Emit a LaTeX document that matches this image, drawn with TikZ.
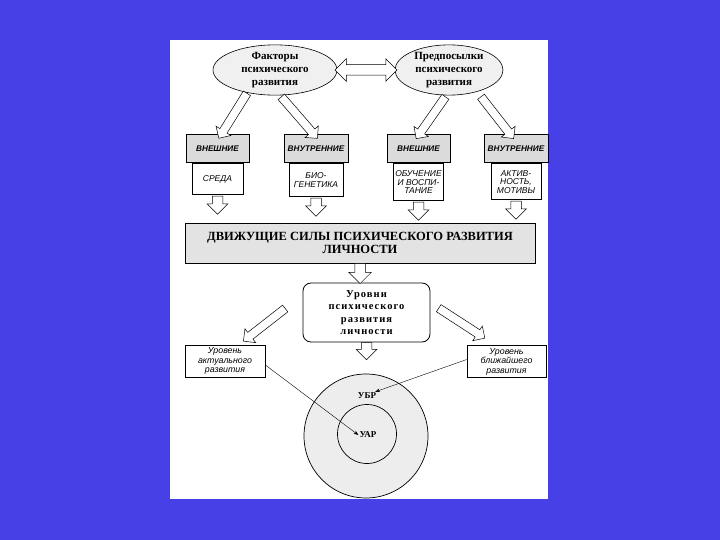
\documentclass[tikz,border=0pt]{standalone}
\usepackage{fontspec}
\setmainfont{Liberation Serif}
\setsansfont{Liberation Sans}
\usetikzlibrary{shapes.geometric,shapes.arrows,positioning,calc,arrows.meta}
\definecolor{slideblue}{RGB}{70,64,230}

\begin{document}
\begin{tikzpicture}[
  x=1pt, y=-1pt,
  >=Stealth,
  oval/.style={draw=black, ellipse, fill=gray!12, line width=0.6pt, align=center,
    inner sep=0pt, font=\fontsize{11}{13}\selectfont\bfseries},
  head/.style={draw=black, fill=gray!28, line width=1pt, minimum height=28pt,
    inner sep=1pt, font=\sffamily\fontsize{8.2}{9}\selectfont\bfseries\itshape},
  part/.style={draw=black, fill=white, line width=0.5pt, align=center, inner sep=1pt,
    font=\sffamily\fontsize{8.5}{8.5}\selectfont\itshape},
  forces/.style={draw=black, fill=gray!22, line width=0.7pt, align=center,
    minimum width=350pt, minimum height=40pt,
    font=\fontsize{12.5}{13.5}\selectfont\bfseries},
  levels/.style={draw=black, rounded corners=8pt, fill=white, line width=0.8pt,
    align=center, minimum width=127pt, minimum height=59pt, inner sep=0pt,
    font=\fontsize{10.5}{12.5}\selectfont\bfseries\addfontfeature{LetterSpace=10}},
  zone/.style={draw=black, fill=white, line width=0.7pt, align=center, inner sep=1pt,
    minimum height=32pt, font=\sffamily\fontsize{8.8}{9.5}\selectfont\itshape},
  disc/.style={draw=black, circle, fill=gray!14, line width=0.7pt, inner sep=0pt},
  fat/.style={single arrow, draw=black, fill=white, line width=0.5pt,
    inner xsep=0pt, inner ysep=4pt, single arrow head extend=4.5pt},
  stub/.style={fat, rotate=-90, anchor=tail, minimum height=18pt,
    inner ysep=5pt, single arrow head extend=5pt},
  lab/.style={font=\fontsize{9}{10}\selectfont\bfseries, inner sep=1pt},
  thinarrow/.style={->, line width=0.4pt}
]
% Slide and page
\fill[slideblue] (0,0) rectangle (720,540);
\fill[white] (170,40) rectangle (548,499);
\useasboundingbox (0,0) rectangle (720,540);

% Top: factors and prerequisites
\node[oval, minimum width=124pt, minimum height=46pt] (fact) at (275,70)
  {Факторы\\психического\\развития};
\node[oval, minimum width=108pt, minimum height=46pt] (prem) at (449,70)
  {Предпосылки\\психического\\развития};
\node[double arrow, draw=black, fill=white, line width=0.5pt, inner xsep=0pt,
  inner ysep=5pt, minimum height=62pt, double arrow head extend=6pt]
  (link) at ($(fact.east)!0.5!(prem.west)$) {};

% Row of external / internal boxes
\node[head, minimum width=63pt] (h1) at (217.5,149) {ВНЕШНИЕ};
\node[head, minimum width=64pt] (h2) at (316,149) {ВНУТРЕННИЕ};
\node[head, minimum width=63pt] (h3) at (418.5,149) {ВНЕШНИЕ};
\node[head, minimum width=64pt] (h4) at (516,149) {ВНУТРЕННИЕ};

\node[part, below=0pt of h1, minimum width=51pt, minimum height=31pt] (b1) {СРЕДА};
\node[part, below=0pt of h2, minimum width=54pt, minimum height=33pt] (b2) {БИО-\\ГЕНЕТИКА};
\node[part, below=0pt of h3, minimum width=50pt, minimum height=37pt] (b3) {ОБУЧЕНИЕ\\И ВОСПИ-\\ТАНИЕ};
\node[part, below=0pt of h4, minimum width=50pt, minimum height=36pt] (b4) {АКТИВ-\\НОСТЬ,\\МОТИВЫ};

% Hollow arrows from the ovals
\node[fat, minimum height=53pt, rotate=-122] (a1) at (234,114) {};
\node[fat, minimum height=55pt, rotate=-49] (a2) at (298,116) {};
\node[fat, minimum height=51pt, rotate=-125] (a3) at (432,116) {};
\node[fat, minimum height=53pt, rotate=-52] (a4) at (496,116) {};

% Driving forces
\node[forces] (force) at (360,243)
  {ДВИЖУЩИЕ СИЛЫ ПСИХИЧЕСКОГО РАЗВИТИЯ\\ЛИЧНОСТИ};
\foreach \b in {b1,b2,b3,b4}
  \node[stub] at ($(\b.south)+(0,1)$) {};

% Levels of development
\node[levels] (lvl) at (366.5,312.5) {Уровни\\психического\\развития\\личности};
\node[stub, minimum height=20pt, inner ysep=5pt, single arrow head extend=6pt] (a5) at (force.south) {};
\node[stub, minimum height=17pt] (a6) at (lvl.south) {};
\node[fat, minimum height=53pt, rotate=218] (a7) at (266,323.5) {};
\node[fat, minimum height=55pt, rotate=-33] (a8) at (460,322) {};

\node[zone, minimum width=80pt] (actual) at (225,361)
  {Уровень\\актуального\\развития};
\node[zone, minimum width=79pt] (nearest) at (506.5,361.5)
  {Уровень\\ближайшего\\развития};

% Zones
\node[disc, minimum size=124pt] (outer) at (366,436) {};
\node[disc, minimum size=59pt] (inner) at (367,434) {};
\node[lab] (ubr) at (367,396) {УБР};
\node[lab] (uar) at (368,435) {УАР};

\draw[thinarrow] ($(actual.east)+(0,4)$) -- (uar.west);
\draw[thinarrow] ($(nearest.west)+(0,-2)$) -- ($(ubr.north east)+(-2,0)$);

\end{tikzpicture}
\end{document}
